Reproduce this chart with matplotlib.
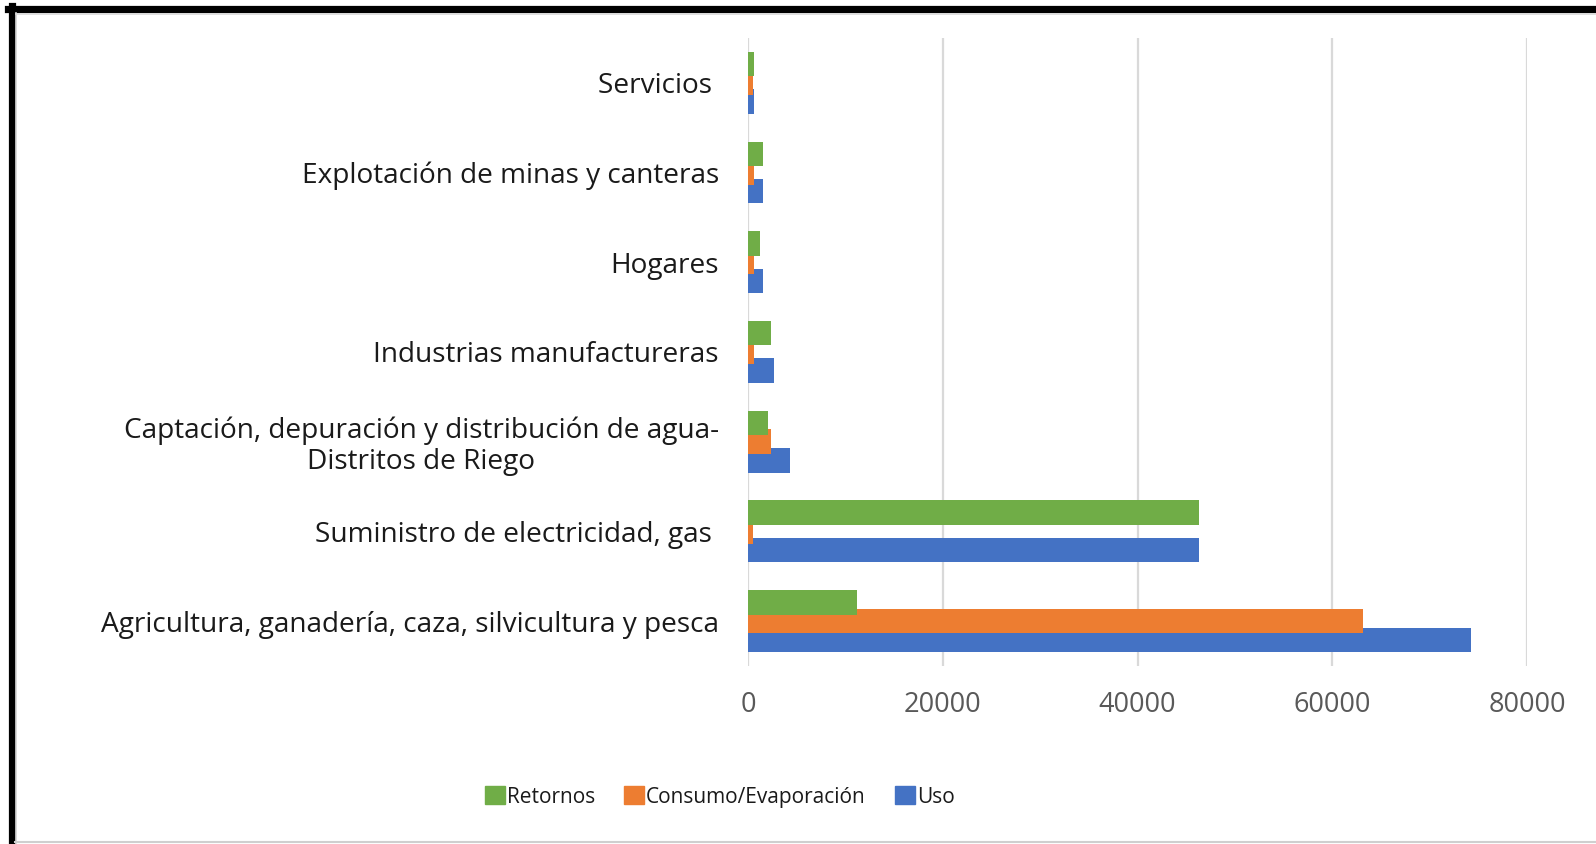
import numpy as np
import matplotlib.pyplot as plt
from matplotlib.patches import Patch
from matplotlib.lines import Line2D

# Uso de agua por sector (bottom to top, as drawn)
sectors = [
    "Agricultura, ganadería, caza, silvicultura y pesca",
    "Suministro de electricidad, gas ",
    "Captación, depuración y distribución de agua-\nDistritos de Riego",
    "Industrias manufactureras",
    "Hogares",
    "Explotación de minas y canteras",
    "Servicios ",
]
uso = [74200, 46300, 4300, 2650, 1550, 1550, 650]
consumo = [63200, 550, 2350, 600, 650, 600, 550]
retornos = [11200, 46300, 2100, 2350, 1250, 1500, 600]

series_names = ["Uso", "Consumo/Evaporación", "Retornos"]
colors = ["#4472c4", "#ed7d31", "#70ad47"]

plt.rcParams['font.family'] = ['Open Sans', 'DejaVu Sans']

fig = plt.figure(figsize=(15.96, 8.44), dpi=100)
ax = fig.add_axes([0.4687, 0.211, 0.4881, 0.744])

y = np.arange(len(sectors))
h = 0.272
step = 0.209
ax.barh(y - step, uso, height=h, color=colors[0], label=series_names[0])
ax.barh(y, consumo, height=h, color=colors[1], label=series_names[1])
ax.barh(y + step, retornos, height=h, color=colors[2], label=series_names[2])

ax.set_xlim(0, 80000)
ax.set_ylim(-0.5, len(sectors) - 0.5)
ax.set_xticks([0, 20000, 40000, 60000, 80000])
ax.set_xticklabels(["0", "20000", "40000", "60000", "80000"])
ax.set_yticks(y)
ax.set_yticklabels(sectors)
for lab in ax.get_yticklabels():
    lab.set_multialignment("center")
    lab.set_linespacing(1.1)

ax.tick_params(axis="y", length=0, pad=21, labelsize=20.2, labelcolor="#1a1a1a")
ax.tick_params(axis="x", length=0, pad=18, labelsize=19.5, labelcolor="#595959")
ax.grid(axis="x", color="#d9d9d9", linewidth=1.6)
ax.set_axisbelow(True)
for s in ax.spines.values():
    s.set_visible(False)

handles = [Patch(color=colors[2]), Patch(color=colors[1]), Patch(color=colors[0])]
fig.legend(handles, ["Retornos", "Consumo/Evaporación", "Uso"], loc="center",
           bbox_to_anchor=(0.451, 1 - 797 / 844), ncol=3, frameon=False,
           fontsize=15, handlelength=0.95, handleheight=0.95, handletextpad=0.1,
           columnspacing=1.4, labelcolor="#1a1a1a")

# frame around the picture
fig.add_artist(Line2D([11.5 / 1596, 11.5 / 1596], [0, 1 - 6 / 844], color="black", lw=5.2))
fig.add_artist(Line2D([8 / 1596, 1], [1 - 9 / 844, 1 - 9 / 844], color="black", lw=5.2))
fig.add_artist(Line2D([16 / 1596, 1], [1 - 13.5 / 844, 1 - 13.5 / 844], color="#d9d9d9", lw=1.2))
fig.add_artist(Line2D([16 / 1596, 16 / 1596], [0, 1 - 13 / 844], color="#d9d9d9", lw=1.2))
fig.add_artist(Line2D([15 / 1596, 1], [2.5 / 844, 2.5 / 844], color="#cfcfcf", lw=1.5))

fig.savefig("out.png", dpi=100)
plt.close(fig)
